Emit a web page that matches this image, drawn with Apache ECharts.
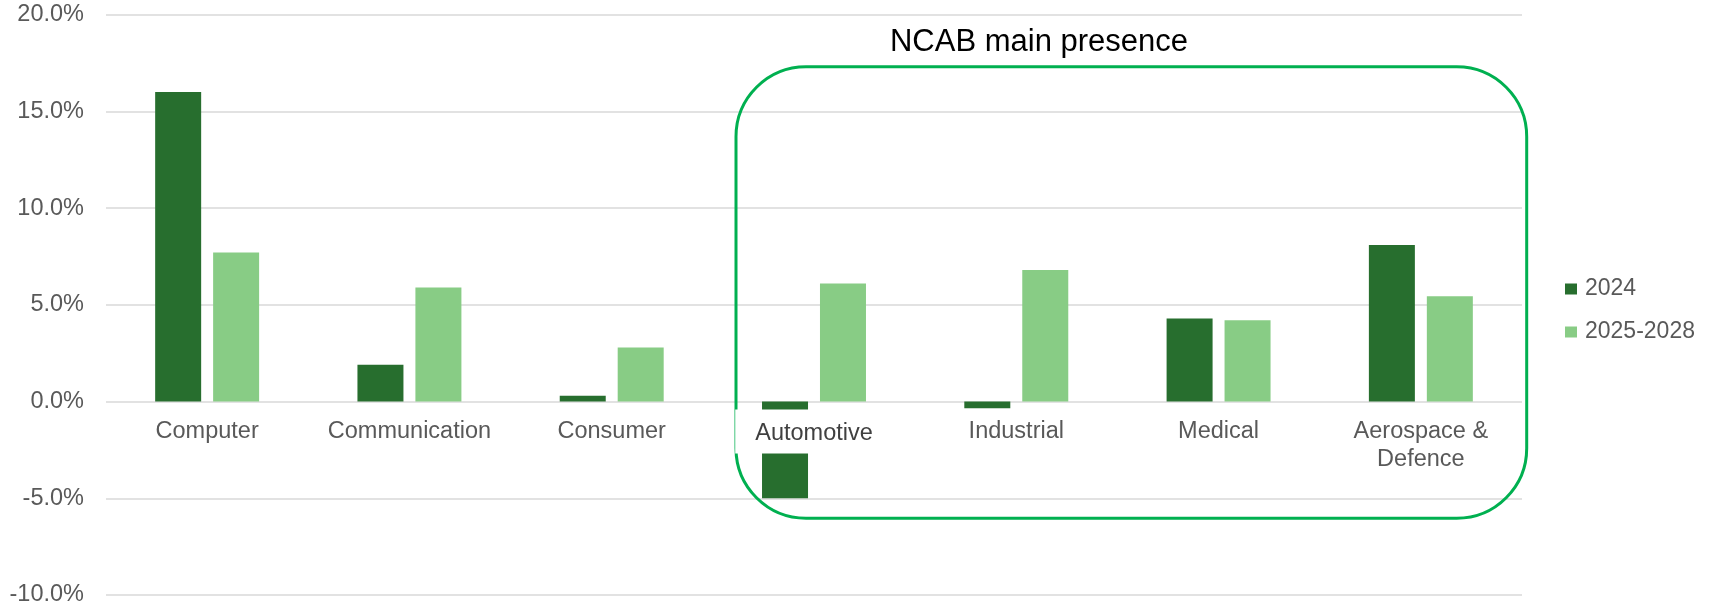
<!DOCTYPE html>
<html>
<head>
<meta charset="utf-8">
<script src="https://cdn.jsdelivr.net/npm/echarts@6/dist/echarts.min.js"></script>
<style>html,body{margin:0;padding:0;background:#fff;}#c{width:1715px;height:608px;}</style>
</head>
<body>
<div id="c"></div>
<script>
const categories = ['Computer', 'Communication', 'Consumer', 'Automotive', 'Industrial', 'Medical', 'Aerospace & Defence'];
const series2024 = [16.0, 1.9, 0.3, -5.0, -0.35, 4.3, 8.1];
const series2025_2028 = [7.7, 5.9, 2.8, 6.1, 6.8, 4.2, 5.45];
const seriesNames = ['2024', '2025-2028'];
const annotationText = 'NCAB main presence';

const FONT = "'Liberation Sans', Arial, sans-serif";
const Y_MIN = -10, Y_MAX = 20;
const GRID_TOP = 14.7, GRID_BOTTOM = 13, H = 608;
// pixel of the zero line, used so the label axis sits on y = 0
const zeroFromBottom = GRID_BOTTOM + (H - GRID_TOP - GRID_BOTTOM) * (0 - Y_MIN) / (Y_MAX - Y_MIN);

const chart = echarts.init(document.getElementById('c'), null, {renderer: 'canvas'});
chart.setOption({
  animation: false,
  backgroundColor: '#ffffff',
  grid: [
    {left: 106, right: 193, top: GRID_TOP, bottom: GRID_BOTTOM, containLabel: false},
    {left: 106, right: 193, top: GRID_TOP, bottom: zeroFromBottom, containLabel: false}
  ],
  legend: {
    orient: 'vertical',
    left: 1560, top: 272,
    itemWidth: 12, itemHeight: 11, itemGap: 19,
    icon: 'rect',
    textStyle: {fontFamily: FONT, fontSize: 23, color: '#595959', lineHeight: 24, padding: [0, 0, 0, 3]},
    data: seriesNames
  },
  xAxis: [
    {
      type: 'category', gridIndex: 0,
      data: categories,
      axisLine: {show: false},
      axisTick: {show: false},
      axisLabel: {show: false}
    },
    {
      type: 'category', gridIndex: 1,
      data: categories,
      position: 'bottom',
      z: 5,
      axisLine: {show: false},
      axisTick: {show: false},
      axisLabel: {
        interval: 0,
        margin: 16,
        fontFamily: FONT, fontSize: 23.5, color: '#595959', lineHeight: 28,
        formatter: function (v) {
          if (v === 'Automotive') return '{hl|' + v + '}';
          return v.replace(' & ', ' &\n');
        },
        rich: {
          hl: {fontFamily: FONT, fontSize: 23.5, color: '#404040', lineHeight: 28,
               backgroundColor: '#ffffff', padding: [12, 20, 8, 20]}
        }
      }
    }
  ],
  yAxis: [
    {
      type: 'value', gridIndex: 0,
      min: Y_MIN, max: Y_MAX, interval: 5,
      axisLine: {show: false},
      axisTick: {show: false},
      splitLine: {lineStyle: {color: '#d9d9d9', width: 1.5}},
      axisLabel: {margin: 22, fontFamily: FONT, fontSize: 23.5, color: '#595959',
        formatter: v => v.toFixed(1) + '%'}
    },
    {
      type: 'value', gridIndex: 1, min: 0, max: 1,
      axisLine: {show: false}, axisTick: {show: false},
      axisLabel: {show: false}, splitLine: {show: false}
    }
  ],
  series: [
    {name: seriesNames[0], type: 'bar', data: series2024, barWidth: 46, barGap: '26%',
     itemStyle: {color: '#276E2E'}},
    {name: seriesNames[1], type: 'bar', data: series2025_2028, barWidth: 46, barGap: '26%',
     itemStyle: {color: '#88CC85'}}
  ],
  graphic: [
    {type: 'rect', z: 1, silent: true,
     shape: {x: 736, y: 66.7, width: 790.7, height: 451.6, r: 70},
     style: {fill: 'none', stroke: '#00B050', lineWidth: 3}},
    {type: 'text', z: 10, silent: true, x: 1039, y: 42,
     style: {text: annotationText, fontFamily: FONT, fontSize: 31, fill: '#000000',
             textAlign: 'center', textVerticalAlign: 'middle'}}
  ]
});
</script>
</body>
</html>
